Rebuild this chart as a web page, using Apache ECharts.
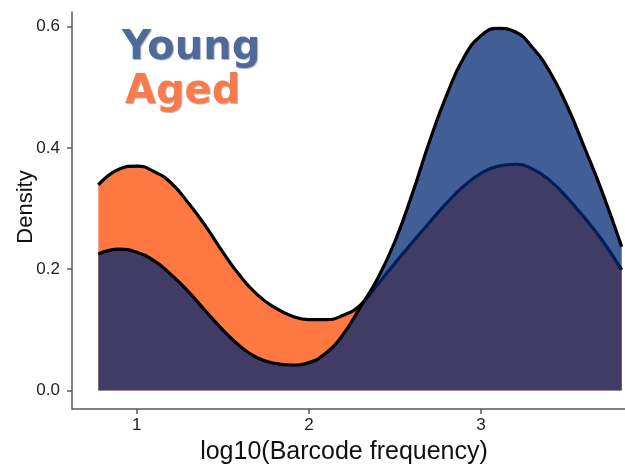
<!DOCTYPE html>
<html>
<head>
<meta charset="utf-8">
<script src="https://cdn.jsdelivr.net/npm/echarts@6/dist/echarts.min.js"></script>
<style>
html,body{margin:0;padding:0;background:#fff;}
#chart{width:625px;height:466px;}
</style>
</head>
<body>
<div id="chart"></div>
<script>
// Data
const xValues = [0.777, 0.9, 1.0, 1.1, 1.2, 1.3, 1.4, 1.5, 1.6, 1.7, 1.8, 1.9, 2.0, 2.1, 2.2, 2.3, 2.4, 2.5, 2.6, 2.7, 2.8, 2.9, 3.0, 3.1, 3.2, 3.3, 3.4, 3.5, 3.6, 3.7, 3.817];
const agedDensity = [0.339, 0.365, 0.370, 0.361, 0.342, 0.309, 0.271, 0.228, 0.189, 0.158, 0.137, 0.123, 0.117, 0.117, 0.124, 0.141, 0.175, 0.210, 0.244, 0.277, 0.309, 0.337, 0.358, 0.370, 0.373, 0.365, 0.346, 0.318, 0.285, 0.249, 0.199];
const youngDensity = [0.225, 0.233, 0.228, 0.214, 0.191, 0.163, 0.131, 0.100, 0.073, 0.054, 0.045, 0.042, 0.046, 0.062, 0.093, 0.138, 0.185, 0.246, 0.324, 0.410, 0.487, 0.549, 0.585, 0.597, 0.591, 0.565, 0.525, 0.469, 0.401, 0.330, 0.237];
const xTicks = [1, 2, 3];
const yTicks = [0, 0.2, 0.4, 0.6];
const seriesNames = ['Young', 'Aged'];
const xTitle = 'log10(Barcode frequency)';
const yTitle = 'Density';

const pairs = (ys) => xValues.map((x, i) => [x, ys[i]]);
const axisColor = '#5a5a5a';
const font = 'Liberation Sans, Arial, sans-serif';

const chart = echarts.init(document.getElementById('chart'), null, {renderer: 'canvas'});
chart.setOption({
  animation: false,
  grid: {left: 72, right: 0, top: 12, bottom: 57, containLabel: false},
  xAxis: {
    type: 'value', min: 0.624, max: 3.836,
    axisLine: {show: true, onZero: false, lineStyle: {color: axisColor, width: 1.5}},
    axisTick: {show: true, length: 5, customValues: xTicks, lineStyle: {color: axisColor, width: 1.5}},
    axisLabel: {customValues: xTicks, color: '#222', fontSize: 17, fontFamily: font, margin: 8},
    splitLine: {show: false}
  },
  yAxis: {
    type: 'value', min: -0.0305, max: 0.624,
    axisLine: {show: true, onZero: false, lineStyle: {color: axisColor, width: 1.5}},
    axisTick: {show: true, length: 5, customValues: yTicks, lineStyle: {color: axisColor, width: 1.5}},
    axisLabel: {customValues: yTicks, color: '#222', fontSize: 17, fontFamily: font, margin: 12,
      formatter: (v) => v.toFixed(1)},
    splitLine: {show: false}
  },
  series: [
    {
      name: seriesNames[1], type: 'line', z: 2, smooth: 0.5, symbol: 'none',
      data: pairs(agedDensity),
      lineStyle: {color: '#000', width: 3.2},
      areaStyle: {color: '#ff7842', opacity: 1}
    },
    {
      name: seriesNames[0], type: 'line', z: 3, smooth: 0.5, symbol: 'none',
      data: pairs(youngDensity),
      lineStyle: {color: '#000', width: 3.2},
      areaStyle: {color: 'rgb(2,40,115)', opacity: 0.75}
    }
  ],
  graphic: [
    {type: 'text', left: 122, top: 29, style: {text: seriesNames[0], fill: '#4d6a9b', font: 'bold 40px DejaVu Sans', textShadowColor: 'rgba(0,0,0,0.3)', textShadowBlur: 1, textShadowOffsetX: 1, textShadowOffsetY: 1}},
    {type: 'text', left: 125, top: 73, style: {text: seriesNames[1], fill: '#fb7a4b', font: 'bold 40px DejaVu Sans', textShadowColor: 'rgba(0,0,0,0.3)', textShadowBlur: 1, textShadowOffsetX: 1, textShadowOffsetY: 1}},
    {type: 'text', x: 344, y: 452, style: {text: xTitle, fill: '#111', font: '25px ' + font, align: 'center', verticalAlign: 'middle'}},
    {type: 'text', x: 26, y: 207, rotation: Math.PI / 2, style: {text: yTitle, fill: '#111', font: '22px ' + font, align: 'center', verticalAlign: 'middle'}}
  ]
});
</script>
</body>
</html>
